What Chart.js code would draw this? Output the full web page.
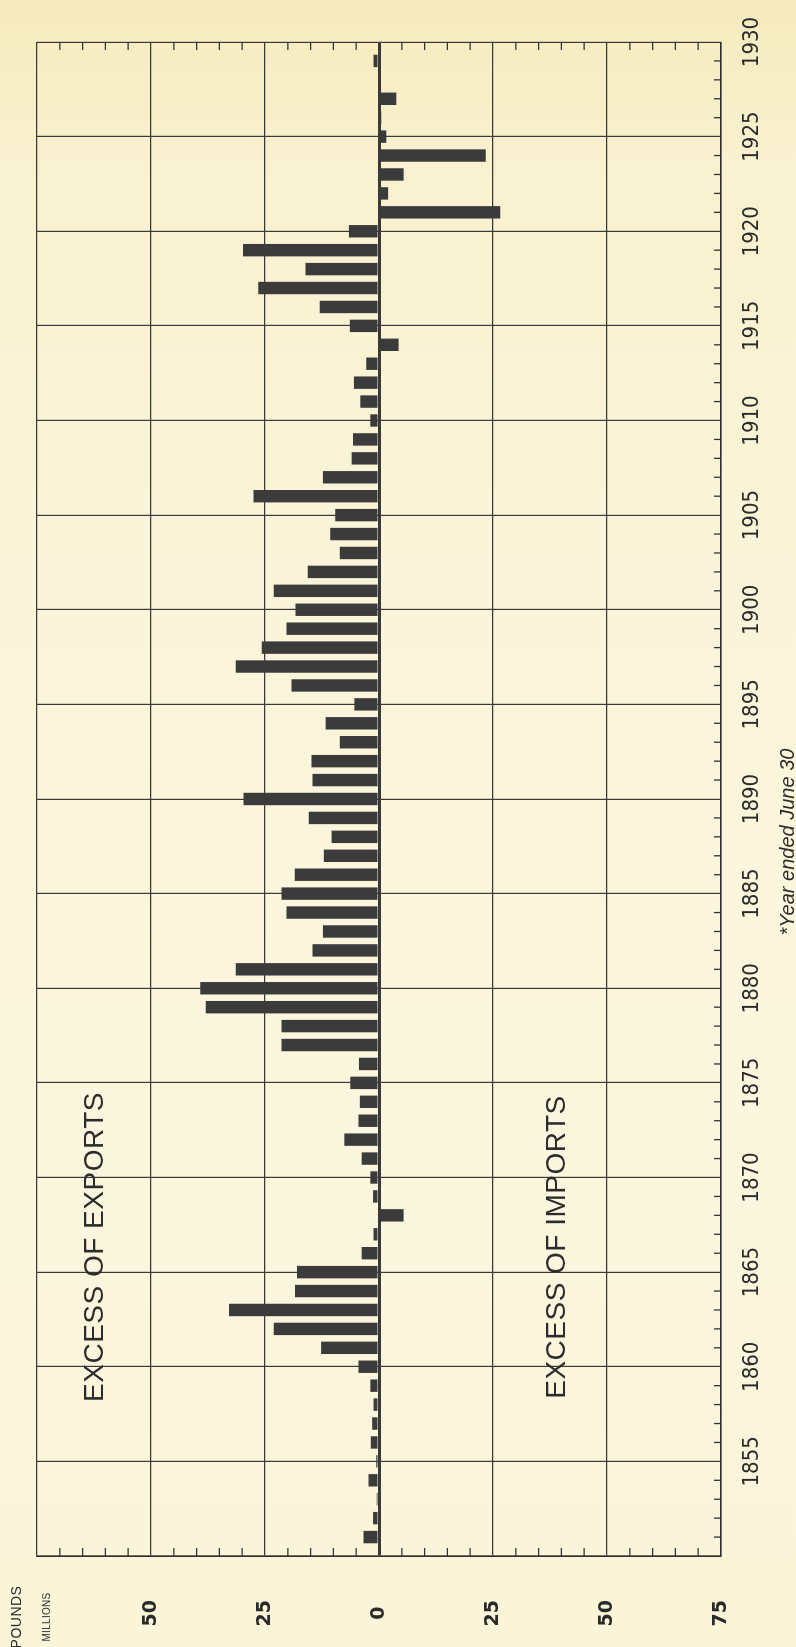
<!DOCTYPE html>
<html>
<head>
<meta charset="utf-8">
<script src="https://cdn.jsdelivr.net/npm/chart.js@4"></script>
<style>
html,body{margin:0;padding:0;width:796px;height:1647px;overflow:hidden;
  background:linear-gradient(to bottom,#f6ebbd 0px,#f9f1cf 160px,#faf5da 600px,#fbf6de 1200px,#faf4d8 1647px);}
#rot{position:absolute;left:0;top:0;width:1647px;height:796px;transform-origin:0 0;transform:translate(0,1647px) rotate(-90deg);}
#c{position:absolute;left:0;top:0;}
.t{position:absolute;white-space:nowrap;color:#2c2c2c;font-family:"Liberation Sans",Arial,sans-serif;transform:translate(-50%,-50%);line-height:1;}
#exp,#imp{font-size:28px;letter-spacing:0.5px;}
#pounds{font-size:14px;letter-spacing:0.5px;}
#millions{font-size:10px;letter-spacing:0.3px;}
#note{font-size:20px;font-style:italic;font-family:"Liberation Sans Narrow","Liberation Sans",Arial,sans-serif;}
</style>
</head>
<body>
<div id="rot">
  <canvas id="c" width="1647" height="796"></canvas>
  <div class="t" id="exp" style="left:400px;top:94px;">EXCESS OF EXPORTS</div>
  <div class="t" id="imp" style="left:400px;top:556px;">EXCESS OF IMPORTS</div>
  <div class="t" id="pounds" style="left:30px;top:16px;">POUNDS</div>
  <div class="t" id="millions" style="left:30px;top:47px;">MILLIONS</div>
  <div class="t" id="note" style="left:805px;top:787px;">*Year ended June 30</div>
</div>
<script>
// Years 1851–1929 (year ended June 30)
const years = [
  1851,1852,1853,1854,1855,1856,1857,1858,1859,1860,
  1861,1862,1863,1864,1865,1866,1867,1868,1869,1870,
  1871,1872,1873,1874,1875,1876,1877,1878,1879,1880,
  1881,1882,1883,1884,1885,1886,1887,1888,1889,1890,
  1891,1892,1893,1894,1895,1896,1897,1898,1899,1900,
  1901,1902,1903,1904,1905,1906,1907,1908,1909,1910,
  1911,1912,1913,1914,1915,1916,1917,1918,1919,1920,
  1921,1922,1923,1924,1925,1926,1927,1928,1929
];
// Balance in £ millions: positive = excess of exports, negative = excess of imports
const balance = [
  3.4,1.3,0.5,2.3,0.6,1.8,1.5,1.2,1.9,4.5,
  12.7,23.1,32.9,18.4,18.0,3.8,1.2,-5.4,1.3,1.9,
  3.8,7.6,4.5,4.2,6.3,4.4,21.4,21.4,38.0,39.2,
  31.4,14.6,12.3,20.3,21.4,18.5,12.1,10.4,15.4,29.7,
  14.6,14.8,8.6,11.7,5.4,19.2,31.4,25.7,20.3,18.3,
  23.1,15.6,8.6,10.7,9.6,27.5,12.3,6.0,5.7,1.9,
  4.1,5.5,2.8,-4.3,6.4,13.0,26.5,16.1,29.8,6.6,
  -26.6,-2.0,-5.4,-23.4,-1.6,-0.5,-3.8,-0.4,1.2
];
const yearTicks = [1850,1855,1860,1865,1870,1875,1880,1885,1890,1895,1900,1905,1910,1915,1920,1925,1930];
const yearTickLabels = ['','1855','1860','1865','1870','1875','1880','1885','1890','1895','1900','1905','1910','1915','1920','1925','1930'];
const valueTicks = [-75,-50,-25,0,25,50,75];
const valueTickLabels = ['75','50','25','0','25','50',''];

const minorTicks = {
  id:'minorTicks',
  afterDraw(chart){
    const {ctx, chartArea:a, scales:{x,y}} = chart;
    ctx.save();
    ctx.strokeStyle = '#333';
    ctx.lineWidth = 1.3;
    ctx.beginPath();
    for (let yr = 1851; yr < 1930; yr++) {
      if (yr % 5 === 0) continue;
      const px = x.getPixelForValue(yr);
      ctx.moveTo(px, a.bottom); ctx.lineTo(px, a.bottom - 7);
    }
    for (let v = -70; v < 75; v += 5) {
      if (v % 25 === 0) continue;
      const py = y.getPixelForValue(v);
      ctx.moveTo(a.left, py); ctx.lineTo(a.left + 8, py);
      ctx.moveTo(a.right, py); ctx.lineTo(a.right - 8, py);
    }
    ctx.stroke();
    ctx.restore();
  }
};

new Chart(document.getElementById('c'), {
  type: 'bar',
  data: {
    datasets: [{
      data: years.map((yr, i) => ({x: yr, y: balance[i]})),
      backgroundColor: '#3b3b3b',
      borderWidth: 0,
      barPercentage: 0.82,
      categoryPercentage: 0.8
    }]
  },
  options: {
    responsive: false,
    animation: false,
    layout: {padding: {left: 0, right: 42, top: 37, bottom: 0}},
    plugins: {legend: {display: false}, tooltip: {enabled: false}},
    scales: {
      x: {
        type: 'linear',
        min: 1850, max: 1930,
        offset: false,
        afterFit: s => { s.height = 75; s.paddingLeft = 0; s.paddingRight = 0; },
        afterBuildTicks: s => { s.ticks = yearTicks.map(v => ({value: v})); },
        ticks: {
          padding: 18,
          color: '#2a2a2a',
          font: {family: '"Liberation Sans Narrow","DejaVu Sans Condensed",sans-serif', size: 22},
          maxRotation: 0, minRotation: 0,
          callback: (v) => yearTickLabels[yearTicks.indexOf(v)]
        },
        grid: {offset: false, drawTicks: false, color: '#3a3a3a', lineWidth: 1.2},
        border: {display: true, color: '#2e2e2e', width: 1.6}
      },
      y: {
        min: -75, max: 75,
        afterFit: s => { s.width = 91; s.paddingTop = 0; s.paddingBottom = 0; },
        afterBuildTicks: s => { s.ticks = valueTicks.map(v => ({value: v})); },
        ticks: {
          padding: 44,
          crossAlign: 'center',
          color: '#2a2a2a',
          font: {family: '"DejaVu Sans",sans-serif', size: 19, weight: 'bold'},
          callback: (v) => valueTickLabels[valueTicks.indexOf(v)]
        },
        grid: {
          drawTicks: false,
          color: '#3a3a3a',
          lineWidth: ctx => (ctx.tick && ctx.tick.value === 0) ? 3 : 1.2
        },
        border: {display: true, color: '#2e2e2e', width: 1.6}
      }
    }
  },
  plugins: [minorTicks]
});
</script>
</body>
</html>
